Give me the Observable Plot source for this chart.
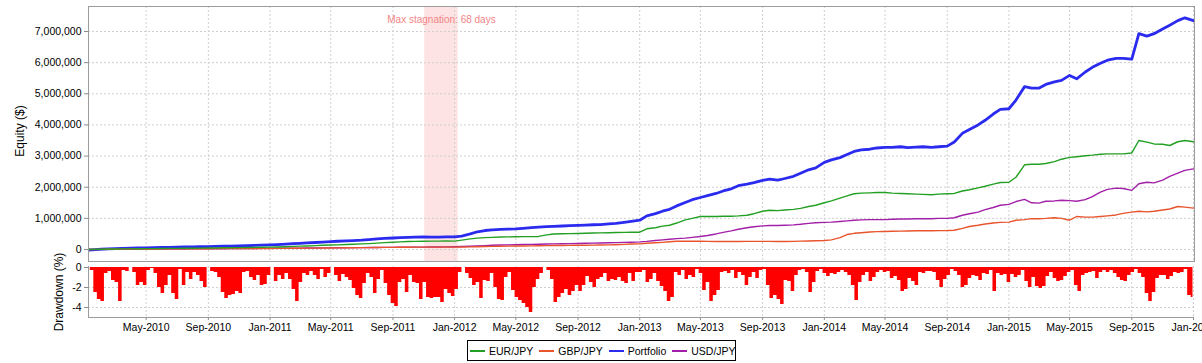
<!DOCTYPE html>
<html><head><meta charset="utf-8">
<script src="https://cdn.jsdelivr.net/npm/d3@7"></script>
<script src="https://cdn.jsdelivr.net/npm/@observablehq/plot@0.6"></script>
<style>
body{margin:0;background:#fff;font-family:"Liberation Sans",Arial,sans-serif;}
#wrap{position:relative;width:1202px;height:363px;overflow:hidden;background:#fff}
#top{position:absolute;left:0;top:0}
#bot{position:absolute;left:0;top:262px}
#wrap svg{overflow:visible}
#legend{position:absolute;left:467px;top:340px;width:265px;height:19px;border:1px solid #000;display:flex;align-items:center;font-size:10.5px;color:#000;box-sizing:content-box;padding-left:2px}
#legend .it{display:flex;align-items:center;margin-right:6px;white-space:nowrap}
#legend .sw{display:inline-block;width:15px;height:2px;margin-right:4px}
</style></head>
<body><div id="wrap"><div id="top"></div><div id="bot"></div><div id="legend"></div></div>
<script>
// ---- data (values in thousands of $ for equity, % for drawdown) ----
const seriesNames = ["EUR/JPY","GBP/JPY","Portfolio","USD/JPY"];
const seriesColors = ["#23a023","#e8542c","#2b2bf0","#a21fa8"];

// semi-monthly samples: 1st and 15th of each month, Jan-2010 .. Jan-2016
const portfolio = [
 -20,-10,10,20,30,35,45,50,55,60,65,70,75,80,85,90,95,100,105,110,115,120,130,140,
 150,160,175,190,200,210,225,240,255,265,275,285,300,320,340,355,370,380,390,395,405,400,400,405,
 405,430,500,570,610,630,645,655,665,680,700,720,735,745,755,765,775,785,795,800,820,840,870,900,
 940,1080,1150,1230,1290,1400,1510,1600,1670,1730,1800,1880,1950,2050,2100,2150,2220,2260,2230,2280,2350,2450,2560,2620,
 2800,2880,2950,3050,3150,3200,3220,3260,3280,3280,3300,3270,3290,3300,3280,3300,3320,3450,3730,3850,4000,4150,4350,4500,
 4520,4800,5230,5180,5180,5300,5380,5430,5590,5480,5700,5850,5980,6080,6140,6140,6110,6930,6850,6930,7080,7200,7350,7440,
 7350];
const eurjpy = [
 0,5,10,15,18,20,22,25,28,30,32,35,38,40,42,45,48,50,55,58,60,65,70,72,
 75,80,90,100,110,115,125,135,145,150,160,170,180,190,205,220,235,245,255,260,265,268,270,272,
 270,300,340,365,380,390,400,405,410,415,415,420,470,500,505,510,515,520,530,535,540,545,550,555,
 555,665,700,750,780,850,950,1000,1060,1060,1060,1070,1070,1080,1100,1150,1230,1260,1250,1270,1290,1320,1380,1420,
 1500,1560,1650,1720,1790,1810,1820,1830,1830,1810,1800,1790,1780,1770,1760,1780,1790,1800,1880,1920,1980,2030,2100,2150,
 2160,2320,2720,2740,2740,2760,2820,2900,2960,2980,3010,3030,3060,3070,3070,3070,3100,3500,3450,3390,3380,3340,3460,3500,
 3460];
const gbpjpy = [
 0,2,5,8,10,12,14,15,17,18,20,21,22,23,24,25,26,27,28,29,30,30,31,32,
 33,35,38,40,42,44,46,48,50,52,55,58,60,62,65,68,70,72,74,75,76,76,77,77,
 78,80,85,90,95,100,105,110,112,115,118,120,125,128,130,132,135,138,140,145,150,155,165,175,
 180,200,215,230,250,265,265,265,265,260,255,255,255,258,260,262,262,260,258,258,262,268,275,280,
 290,310,380,480,520,540,560,575,580,585,590,595,600,600,600,605,610,620,680,740,780,820,850,870,
 880,940,960,990,990,1000,1020,1000,940,1060,1040,1040,1060,1080,1110,1160,1200,1230,1210,1230,1270,1300,1380,1360,
 1330];
const usdjpy = [
 0,0,2,4,5,6,8,10,12,14,15,16,17,18,20,22,24,25,26,28,30,32,34,36,
 38,40,42,44,46,48,50,52,54,56,58,60,62,64,66,68,70,72,74,76,78,80,82,85,
 88,95,105,115,125,135,145,150,155,160,165,170,175,180,185,190,195,200,205,210,215,220,230,235,
 245,260,290,310,330,350,365,390,420,450,500,550,600,650,700,730,760,770,770,780,790,810,840,860,
 870,880,900,920,940,950,960,960,960,970,980,980,990,990,990,1000,1000,1020,1100,1150,1200,1280,1350,1420,
 1450,1540,1610,1500,1490,1550,1560,1580,1570,1550,1600,1700,1840,1930,1970,1960,1900,2110,2160,2140,2230,2350,2450,2540,
 2590];

// weekly drawdown samples starting 2010-01-07 (%)
const drawdown = [
 0,-0.3,-2.5,-3.2,-3.4,-0.6,-0.4,-1.3,-1.5,-3.4,
 -0.3,-0.4,0,-0.5,-1.8,-1.5,-1.8,-0.3,-0.1,-0.6,
 -2.0,-2.6,-1.8,-0.8,-2.6,-3.2,-0.2,-1.8,-0.5,-1.2,
 -0.5,-0.8,-1.4,-2.0,0,-0.4,-0.5,-1.0,-2.5,-3.1,
 -2.8,-2.7,-2.4,-2.6,-0.5,-0.4,-1.0,-1.3,-0.8,-1.8,
 -1.7,-0.8,0,-1.4,-0.8,-1.2,-0.6,-1.2,-2.2,-3.4,
 -1.5,-0.6,-0.8,-0.4,-0.8,-1.2,-0.2,-1.0,-0.6,0,
 -0.8,-1.4,-0.7,-1.0,-1.3,-2.1,-2.8,-3.1,-1.6,
 -0.6,-1.0,-2.6,-1.2,-0.3,-1.6,-2.8,-3.6,-3.9,-1.5,
 -1.2,-2.5,-0.8,-1.5,-1.6,-3.2,-1.5,-3.0,-3.1,-3.0,
 -3.0,-3.5,-2.2,-2.6,-2.9,-2.2,-0.5,0,-0.6,-1.1,
 -1.8,-1.5,-3.1,-1.3,-1.4,-0.6,-2.0,-3.2,-3.3,-1.0,
 -0.5,-2.3,-3.0,-3.3,-3.6,-4.0,-4.5,-2.0,-1.2,-0.6,
 0,-0.3,-1.2,-3.5,-3.0,-2.6,-2.2,-2.8,-2.4,-1.8,
 -2.4,-1.8,-0.9,-1.5,-2.0,-1.2,-1.0,-0.6,-1.4,-1.2,
 -1.3,-1.0,-1.4,-1.6,-0.6,-1.4,-0.5,-0.5,
 -0.3,-1.5,-1.2,-0.6,-1.4,-1.9,-2.4,-3.4,-3.0,-0.5,
 -0.8,-0.3,-1.2,-0.8,-1.0,-0.2,-0.6,-2.3,-1.5,-3.4,
 -2.8,-2.3,-0.5,-0.4,-0.6,-0.3,-1.1,-0.5,-0.8,-1.8,
 -1.0,-0.5,-1.1,-0.3,-0.2,-1.8,-3.1,-2.8,-3.2,-3.7,
 -1.3,-1.4,-2.4,-0.8,-0.3,-0.2,-0.5,-2.5,-1.5,-0.4,
 -0.2,-0.6,-0.9,-0.6,-0.7,-0.5,-0.3,-0.5,-0.8,-1.8,
 -3.3,-1.5,-0.8,-0.5,-1.4,-1.0,-0.5,-0.3,-0.5,-0.4,
 -1.1,-0.9,-1.3,-2.4,-2.2,-1.1,-1.4,-1.8,
 -0.5,-0.6,-0.4,-0.4,-0.5,-1.3,-2.0,-1.2,-0.8,-0.2,
 -0.4,-0.8,-2.0,-1.8,-1.1,-0.8,-0.9,-1.3,-0.6,-0.7,
 -0.3,-2.4,-0.6,-0.8,-0.7,-1.5,-0.7,-1.0,-0.8,-0.3,
 -1.4,-2.0,-1.0,-1.9,-2.1,-1.9,-0.9,-0.5,-1.1,-1.4,
 -1.3,-0.9,-0.5,-0.3,-1.8,-2.4,-0.8,-0.6,-0.5,-0.4,
 -1.1,-0.5,-0.3,-0.5,-0.3,-0.6,-1.0,-1.3,-1.4,-0.8,
 -0.5,-0.2,-0.6,-1.0,-2.6,-3.4,-2.5,-1.1,-0.8,-0.8,
 -1.2,-0.9,-0.5,-0.6,-0.5,-0.2,-2.8,-3.0];

const xTickDates = ["2010-05-01","2010-09-01","2011-01-01","2011-05-01","2011-09-01","2012-01-01","2012-05-01","2012-09-01","2013-01-01","2013-05-01","2013-09-01","2014-01-01","2014-05-01","2014-09-01","2015-01-01","2015-05-01","2015-09-01","2016-01-01"];
const xTickLabels = ["May-2010","Sep-2010","Jan-2011","May-2011","Sep-2011","Jan-2012","May-2012","Sep-2012","Jan-2013","May-2013","Sep-2013","Jan-2014","May-2014","Sep-2014","Jan-2015","May-2015","Sep-2015","Jan-2016"];
const yTicks = [0,1000000,2000000,3000000,4000000,5000000,6000000,7000000];
const ddTicks = [0,-2,-4];
const stagnation = {start:"2011-11-03", end:"2012-01-08", label:"Max stagnation: 68 days"};
const ddStart = "2010-01-07";

// ---- build tables ----
const xDomain = [new Date("2010-01-07"), new Date("2016-01-03")];
const months = d3.utcMonth.range(new Date("2010-01-01"), new Date("2016-01-02"));
const dates = months.flatMap(m => [m, d3.utcDay.offset(m, 14)]).slice(0, portfolio.length);
const rows = (vals, name) => vals.map((v, i) => ({date: dates[i], value: v * 1000, name}));
const ddRows = drawdown.map((v, i) => ({date: d3.utcDay.offset(new Date(ddStart), 7 * i), value: v}));
const xTicks = xTickDates.map(d => new Date(d));
const tickLabel = d => xTickLabels[xTicks.findIndex(t => +t === +d)];
const stagMid = new Date((+new Date(stagnation.start) + +new Date(stagnation.end)) / 2);

const grid = {stroke: "#cfcfcf", strokeDasharray: "2,2", strokeWidth: 1};
const font = '"Liberation Sans", Arial, sans-serif';

const topChart = Plot.plot({
  width: 1202, height: 262,
  marginTop: 6, marginBottom: 1, marginLeft: 88, marginRight: 8,
  x: {type: "utc", domain: xDomain, axis: null},
  y: {domain: [-385000, 7803000], axis: null},
  style: {fontFamily: font, fontSize: "10.5px", color: "#000", background: "transparent", overflow: "visible"},
  marks: [
    Plot.rect([stagnation], {x1: d => new Date(d.start), x2: d => new Date(d.end), fill: "#fde3e3"}),
    Plot.ruleX(xTicks, grid),
    Plot.ruleY(yTicks, grid),
    Plot.line(rows(usdjpy, seriesNames[3]), {x: "date", y: "value", stroke: seriesColors[3], strokeWidth: 1.4, clip: true}),
    Plot.line(rows(portfolio, seriesNames[2]), {x: "date", y: "value", stroke: seriesColors[2], strokeWidth: 2.8, clip: true}),
    Plot.line(rows(gbpjpy, seriesNames[1]), {x: "date", y: "value", stroke: seriesColors[1], strokeWidth: 1.4, clip: true}),
    Plot.line(rows(eurjpy, seriesNames[0]), {x: "date", y: "value", stroke: seriesColors[0], strokeWidth: 1.4, clip: true}),
    Plot.frame({stroke: "#9c9c9c"}),
    Plot.axisY({ticks: yTicks, tickFormat: d3.format(","), tickSize: 4, tickPadding: 3, stroke: "#8c8c8c", fill: "#000", label: null}),
    Plot.text([stagnation.label], {x: stagMid, frameAnchor: "top", dy: 9, fill: "#f28585", fontSize: 10}),
    Plot.text(["Equity ($)"], {frameAnchor: "left", textAnchor: "middle", rotate: -90, dx: -68, dy: -3, fontSize: 12, fill: "#000"})
  ]
});
document.getElementById("top").appendChild(topChart);

const botChart = Plot.plot({
  width: 1202, height: 75,
  marginTop: 4, marginBottom: 20, marginLeft: 88, marginRight: 8,
  x: {type: "utc", domain: xDomain, axis: null},
  y: {domain: [-5, 0.1], axis: null},
  style: {fontFamily: font, fontSize: "10.5px", color: "#000", background: "transparent", overflow: "visible"},
  marks: [
    Plot.ruleX(xTicks, grid),
    Plot.ruleY([-2, -4], grid),
    Plot.areaY(ddRows, {x: "date", y: "value", fill: "#ff0000", curve: "step", clip: true}),
    Plot.ruleY([-5], {stroke: "#9c9c9c"}),
    Plot.ruleX([xDomain[0]], {stroke: "#9c9c9c"}),
    Plot.axisX({ticks: xTicks, tickFormat: tickLabel, tickSize: 3, tickPadding: 3, stroke: "#8c8c8c", fill: "#000", label: null}),
    Plot.axisY({ticks: ddTicks, tickFormat: d => String(d), tickSize: 4, tickPadding: 3, stroke: "#8c8c8c", fill: "#000", label: null}),
    Plot.text(["Drawdown (%)"], {frameAnchor: "left", textAnchor: "middle", rotate: -90, dx: -29, fontSize: 12, fill: "#000"})
  ]
});
document.getElementById("bot").appendChild(botChart);

const legend = document.getElementById("legend");
seriesNames.forEach((n, i) => {
  const it = document.createElement("div");
  it.className = "it";
  const sw = document.createElement("span");
  sw.className = "sw";
  sw.style.background = seriesColors[i];
  const tx = document.createElement("span");
  tx.textContent = n;
  it.appendChild(sw); it.appendChild(tx);
  legend.appendChild(it);
});
</script>
</body></html>
